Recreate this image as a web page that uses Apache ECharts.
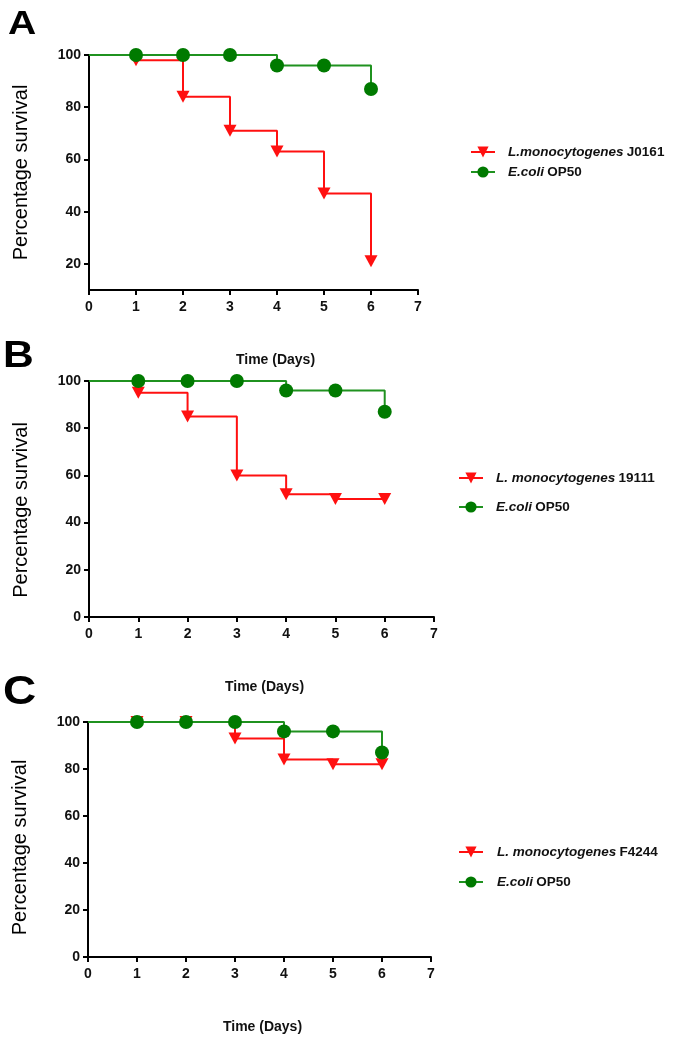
<!DOCTYPE html>
<html>
<head>
<meta charset="utf-8">
<script src="https://cdn.jsdelivr.net/npm/echarts@6/dist/echarts.min.js"></script>
<style>
html,body{margin:0;padding:0;background:#fff;}
#c{width:675px;height:1037px;}
</style>
</head>
<body>
<div id="c"></div>
<script>
// ---- data ----
var days = [0, 1, 2, 3, 4, 5, 6];
var xTicks = [0, 1, 2, 3, 4, 5, 6, 7];
var yTicksA = [20, 40, 60, 80, 100];
var yTicksBC = [0, 20, 40, 60, 80, 100];

var panelLetters = ['A', 'B', 'C'];
var namesRed = ['L.monocytogenes J0161', 'L. monocytogenes 19111', 'L. monocytogenes F4244'];
var nameGreen = 'E.coli OP50';

var redA = [100, 98, 84, 71, 63, 47, 21];
var greenA = [100, 100, 100, 100, 96, 96, 87];
var redB = [100, 95, 85, 60, 52, 50, 50];
var greenB = [100, 100, 100, 100, 96, 96, 87];
var redC = [100, 100, 100, 93, 84, 82, 82];
var greenC = [100, 100, 100, 100, 96, 96, 87];

var FONT = "'Liberation Sans', Arial, sans-serif";
var RED = '#ff1010';
var GREEN_LINE = '#1f921f';
var GREEN_MARK = '#007a00';

function toData(vals) {
  return days.map(function (d, i) {
    var item = { value: [d, vals[i]] };
    if (i === 0) item.symbol = 'none';
    return item;
  });
}

var grids = [
  { left: 89, top: 55, width: 329, height: 235 },
  { left: 89, top: 381, width: 345, height: 236 },
  { left: 88, top: 722, width: 343, height: 235 }
];

var xNamePad = [[0, 0, 0, 44], [0, 0, 0, 6], [0, 0, 0, 6]];
var yNamePad = [[0, 0, 0, 0], [0, 22, 0, 0], [0, 16, 0, 0]];

var xAxes = grids.map(function (g, i) {
  return {
    type: 'value', gridIndex: i, min: 0, max: 7, interval: 1,
    name: 'Time (Days)', nameLocation: 'middle', nameGap: 63,
    nameTextStyle: { fontFamily: FONT, fontWeight: 'bold', fontSize: 14, color: '#111', padding: xNamePad[i] },
    axisLine: { show: true, lineStyle: { color: '#000', width: 2 } },
    axisTick: { show: true, length: 5, lineStyle: { color: '#000', width: 2 } },
    axisLabel: { fontFamily: FONT, fontWeight: 'bold', fontSize: 14, color: '#111', margin: 10 },
    splitLine: { show: false }
  };
});

var yAxes = grids.map(function (g, i) {
  var ticks = i === 0 ? yTicksA : yTicksBC;
  return {
    type: 'value', gridIndex: i, min: i === 0 ? 10 : 0, max: 100,
    name: 'Percentage survival', nameLocation: 'middle', nameGap: 58, nameRotate: 90,
    nameTextStyle: { fontFamily: FONT, fontSize: 20, color: '#000', padding: yNamePad[i] },
    axisLine: { show: true, lineStyle: { color: '#000', width: 2 } },
    axisTick: { show: true, length: 5, customValues: ticks, lineStyle: { color: '#000', width: 2 } },
    axisLabel: { fontFamily: FONT, fontWeight: 'bold', fontSize: 14, color: '#111', margin: 8, customValues: ticks },
    splitLine: { show: false }
  };
});

var reds = [redA, redB, redC];
var greens = [greenA, greenB, greenC];
var series = [];
for (var i = 0; i < 3; i++) {
  series.push({
    name: namesRed[i], type: 'line', xAxisIndex: i, yAxisIndex: i,
    step: 'end', data: toData(reds[i]),
    symbol: 'triangle', symbolRotate: 180, symbolSize: [13, 12],
    lineStyle: { color: RED, width: 2 }, itemStyle: { color: RED },
    z: 2, animation: false
  });
  series.push({
    name: nameGreen, type: 'line', xAxisIndex: i, yAxisIndex: i,
    step: 'end', data: toData(greens[i]),
    symbol: 'circle', symbolSize: 14,
    lineStyle: { color: GREEN_LINE, width: 2 }, itemStyle: { color: GREEN_MARK },
    z: 3, animation: false
  });
}

function legendFmt(name) {
  var parts = name.split(' ');
  if (parts.length === 3) {
    return '{i|' + parts[0] + ' ' + parts[1] + '} {n|' + parts[2] + '}';
  }
  return '{i|' + parts[0] + '} {n|' + parts[1] + '}';
}

var legRich = {
  i: { fontFamily: FONT, fontStyle: 'italic', fontWeight: 'bold', fontSize: 13.5, color: '#111' },
  n: { fontFamily: FONT, fontWeight: 'bold', fontSize: 13.5, color: '#111' }
};

var legendPos = [
  { left: 470, top: 145, itemGap: 6, pad: 8 },
  { left: 458, top: 471, itemGap: 15, pad: 8 },
  { left: 458, top: 845, itemGap: 16, pad: 9 }
];

var legends = legendPos.map(function (p, i) {
  return {
    orient: 'vertical', left: p.left, top: p.top, itemGap: p.itemGap,
    itemWidth: 24, itemHeight: 14, padding: 0,
    data: [namesRed[i], nameGreen],
    formatter: legendFmt,
    selectedMode: false,
    textStyle: { rich: legRich, padding: [0, 0, 0, p.pad] }
  };
});

var letterPos = [
  { x: 8, y: 8, size: 34 },
  { x: 3, y: 338, size: 37 },
  { x: 3, y: 673, size: 40 }
];
var graphics = letterPos.map(function (p, i) {
  return {
    type: 'text', x: p.x, y: p.y, scaleX: 1.15, scaleY: 1,
    style: {
      text: panelLetters[i], fill: '#000',
      font: 'bold ' + p.size + 'px ' + FONT,
      textVerticalAlign: 'top', textAlign: 'left'
    }
  };
});

var chart = echarts.init(document.getElementById('c'), null, { renderer: 'canvas' });
chart.setOption({
  backgroundColor: '#fff',
  animation: false,
  graphic: graphics,
  grid: grids,
  xAxis: xAxes,
  yAxis: yAxes,
  legend: legends,
  series: series
});
</script>
</body>
</html>
